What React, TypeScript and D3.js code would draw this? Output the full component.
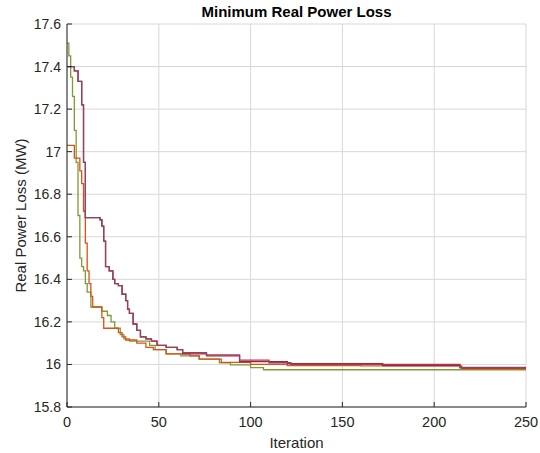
import React from 'react';
import * as d3 from 'd3';

// convergence curves (iteration -> best loss)
const redIter = [0, 4, 6, 8, 9, 10, 18, 19, 20, 21, 23, 25, 26, 28, 30, 32, 33, 34, 36, 38, 40, 43, 46, 49, 54, 60, 63, 76, 94, 120, 172, 214, 250];
const redLoss = [17.4, 17.38, 17.33, 17.22, 16.95, 16.69, 16.68, 16.65, 16.58, 16.46, 16.44, 16.4, 16.38, 16.37, 16.33, 16.3, 16.26, 16.24, 16.19, 16.16, 16.13, 16.12, 16.11, 16.09, 16.08, 16.07, 16.05, 16.04, 16.013, 16.004, 15.995, 15.984, 15.984];

const mauveIter = [0, 4, 6, 8, 9, 10, 18, 19, 20, 21, 23, 25, 26, 28, 30, 32, 33, 34, 36, 38, 40, 43, 46, 49, 54, 60, 63, 76, 94, 110, 122, 214, 250];
const mauveLoss = [17.4, 17.38, 17.33, 17.22, 16.95, 16.69, 16.68, 16.65, 16.58, 16.46, 16.44, 16.4, 16.38, 16.37, 16.33, 16.3, 16.26, 16.24, 16.19, 16.16, 16.13, 16.12, 16.11, 16.09, 16.08, 16.07, 16.055, 16.045, 16.02, 16.008, 16.0, 15.986, 15.986];

const orangeIter = [0, 4, 7, 8, 9, 10, 11, 12, 13, 14, 19, 20, 28, 30, 32, 38, 43, 47, 54, 67, 72, 84, 100, 120, 160, 215, 250];
const orangeLoss = [17.03, 16.97, 16.91, 16.85, 16.72, 16.57, 16.44, 16.38, 16.32, 16.27, 16.22, 16.17, 16.15, 16.13, 16.115, 16.1, 16.08, 16.07, 16.05, 16.04, 16.025, 16.01, 16.0, 15.995, 15.993, 15.981, 15.981];

const greenIter = [0, 1, 2, 3, 4, 5, 6, 7, 8, 9, 10, 11, 13, 19, 22, 24, 26, 29, 31, 34, 45, 48, 54, 62, 72, 83, 89, 100, 107, 250];
const greenLoss = [17.51, 17.45, 17.35, 17.26, 17.1, 16.95, 16.7, 16.5, 16.46, 16.44, 16.38, 16.34, 16.27, 16.25, 16.23, 16.2, 16.17, 16.14, 16.12, 16.11, 16.09, 16.07, 16.05, 16.04, 16.025, 16.008, 15.998, 15.985, 15.975, 15.975];

const xTicks = [0, 50, 100, 150, 200, 250];
const yTicks = [15.8, 16, 16.2, 16.4, 16.6, 16.8, 17, 17.2, 17.4, 17.6];

const series = [
  { iter: greenIter, loss: greenLoss, color: '#7f9a35' },
  { iter: orangeIter, loss: orangeLoss, color: '#d95319' },
  { iter: redIter, loss: redLoss, color: '#c0152f' },
  { iter: mauveIter, loss: mauveLoss, color: '#8a4763' },
];

const W = 540;
const H = 453;
const left = 67;
const right = 526;
const top = 24;
const bottom = 407;
const font = '"Liberation Sans", Arial, sans-serif';
const ink = '#262626';

export default function App() {
  const x = d3.scaleLinear().domain([0, 250]).range([left, right]);
  const y = d3.scaleLinear().domain([15.8, 17.6]).range([bottom, top]);

  const line = d3
    .line<[number, number]>()
    .x((d) => x(d[0]))
    .y((d) => y(d[1]))
    .curve(d3.curveStepAfter);

  return (
    <svg width={W} height={H} style={{ position: 'absolute', left: 0, top: 0, background: '#fff' }}>
      {/* grid */}
      {xTicks.map((t) => (
        <line key={'gx' + t} x1={x(t)} x2={x(t)} y1={top} y2={bottom} stroke="#d8d8d8" strokeWidth={1} />
      ))}
      {yTicks.map((t) => (
        <line key={'gy' + t} x1={left} x2={right} y1={y(t)} y2={y(t)} stroke="#d8d8d8" strokeWidth={1} />
      ))}

      {/* curves */}
      {series.map((s, i) => (
        <path
          key={i}
          d={line(s.iter.map((v, j) => [v, s.loss[j]] as [number, number])) || ''}
          fill="none"
          stroke={s.color}
          strokeWidth={1.3}
        />
      ))}

      {/* axes */}
      <line x1={left} x2={left} y1={top} y2={bottom} stroke={ink} strokeWidth={1} />
      <line x1={left} x2={right} y1={bottom} y2={bottom} stroke={ink} strokeWidth={1} />
      {yTicks.map((t) => (
        <g key={'ty' + t}>
          <line x1={left} x2={left + 5} y1={y(t)} y2={y(t)} stroke={ink} />
          <text x={left - 6} y={y(t) + 5} textAnchor="end" fontFamily={font} fontSize={14} fill={ink}>
            {d3.format('~g')(t)}
          </text>
        </g>
      ))}
      {xTicks.map((t) => (
        <g key={'tx' + t}>
          <line x1={x(t)} x2={x(t)} y1={bottom} y2={bottom - 5} stroke={ink} />
          <text x={x(t)} y={bottom + 20} textAnchor="middle" fontFamily={font} fontSize={14.5} fill={ink}>
            {t}
          </text>
        </g>
      ))}

      {/* labels */}
      <text x={(left + right) / 2} y={448} textAnchor="middle" fontFamily={font} fontSize={15} fill={ink}>
        Iteration
      </text>
      <text
        transform={`translate(26,${(top + bottom) / 2}) rotate(-90)`}
        textAnchor="middle"
        fontFamily={font}
        fontSize={15}
        fill={ink}
      >
        Real Power Loss (MW)
      </text>
      <text x={(left + right) / 2} y={17} textAnchor="middle" fontFamily={font} fontSize={15} fontWeight="bold" fill="#000">
        Minimum Real Power Loss
      </text>
    </svg>
  );
}
